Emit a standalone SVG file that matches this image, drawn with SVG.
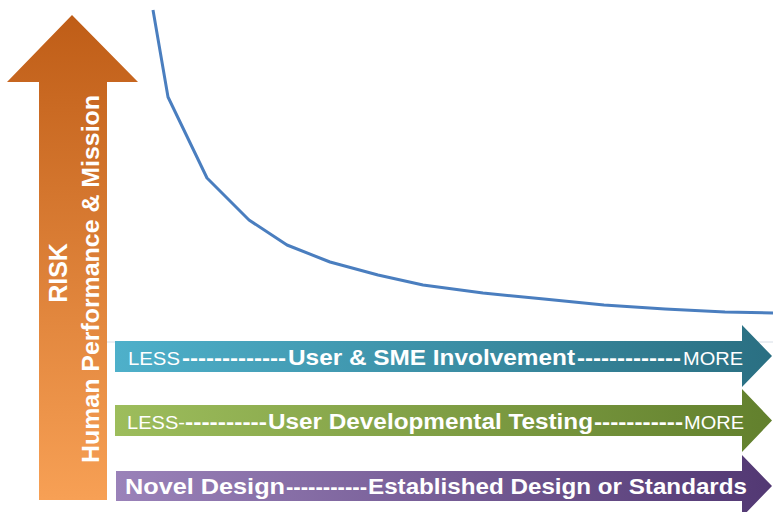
<svg xmlns="http://www.w3.org/2000/svg" width="773" height="512" viewBox="0 0 773 512">
  <defs>
    <linearGradient id="gOrange" x1="0" y1="0" x2="0" y2="1">
      <stop offset="0" stop-color="#bf5d17"/>
      <stop offset="1" stop-color="#f7a055"/>
    </linearGradient>
    <linearGradient id="gTeal" x1="0" y1="0" x2="1" y2="0">
      <stop offset="0" stop-color="#4eb0ca"/>
      <stop offset="1" stop-color="#2a6f82"/>
    </linearGradient>
    <linearGradient id="gGreen" x1="0" y1="0" x2="1" y2="0">
      <stop offset="0" stop-color="#9dbd5c"/>
      <stop offset="1" stop-color="#62802d"/>
    </linearGradient>
    <linearGradient id="gPurple" x1="0" y1="0" x2="1" y2="0">
      <stop offset="0" stop-color="#9a82b9"/>
      <stop offset="1" stop-color="#523873"/>
    </linearGradient>
  </defs>
  <style>
    text { font-family: "Liberation Sans", Arial, sans-serif; fill: #ffffff; }
    .b { font-weight: bold; }
    .r { font-weight: normal; }
    .curve { fill: none; stroke: #4a7ebf; stroke-width: 3; stroke-linejoin: round; }
    .axis { stroke: #d6dde6; stroke-width: 1; }
  </style>
  <rect width="773" height="512" fill="#ffffff"/>

  <g id="connectors">
    <line class="axis" x1="107" y1="342" x2="773" y2="342"/>
    <polyline class="curve" points="153,10 168,97 207,178 249,220 287,245 330,262 378,275 423,285 483,293 544,299 604,305 665,309 725,312 773,313"/>
  </g>

  <g id="risk">
    <polygon points="72,15 138,82 107,82 107,500 39,500 39,82 7,82" fill="url(#gOrange)"/>
    <text class="b" font-size="25" text-anchor="middle" transform="translate(66.5,273) rotate(-90)">RISK</text>
    <text class="b" font-size="23" text-anchor="middle" textLength="368" lengthAdjust="spacingAndGlyphs" transform="translate(98.5,279) rotate(-90)">Human Performance &amp; Mission</text>
  </g>

  <g id="involvement">
    <polygon points="115,341 742,341 742,325 772,356 742,387 742,372 115,372" fill="url(#gTeal)"/>
    <text y="365" font-size="19">
      <tspan class="r" x="128" textLength="52" lengthAdjust="spacingAndGlyphs">LESS</tspan>
      <tspan class="b" x="182" font-size="22" textLength="104" lengthAdjust="spacingAndGlyphs">-------------</tspan>
      <tspan class="b" x="288" font-size="22" textLength="287" lengthAdjust="spacingAndGlyphs">User &amp; SME Involvement</tspan>
      <tspan class="b" x="577" font-size="22" textLength="104" lengthAdjust="spacingAndGlyphs">-------------</tspan>
      <tspan class="r" x="683" textLength="60" lengthAdjust="spacingAndGlyphs">MORE</tspan>
    </text>
  </g>

  <g id="testing">
    <polygon points="115,405 742,405 742,389 772,420.5 742,452 742,436 115,436" fill="url(#gGreen)"/>
    <text y="429" font-size="19">
      <tspan class="r" x="127" textLength="58" lengthAdjust="spacingAndGlyphs">LESS-</tspan>
      <tspan class="b" x="185" font-size="22" textLength="82" lengthAdjust="spacingAndGlyphs">----------</tspan>
      <tspan class="b" x="268" font-size="22" textLength="325" lengthAdjust="spacingAndGlyphs">User Developmental Testing</tspan>
      <tspan class="b" x="594" font-size="22" textLength="89" lengthAdjust="spacingAndGlyphs">-----------</tspan>
      <tspan class="r" x="684" textLength="60" lengthAdjust="spacingAndGlyphs">MORE</tspan>
    </text>
  </g>

  <g id="design">
    <polygon points="116,471 742,471 742,455 772,486 742,517 742,501 116,501" fill="url(#gPurple)"/>
    <text y="494" font-size="22" class="b">
      <tspan x="125" textLength="160" lengthAdjust="spacingAndGlyphs">Novel Design</tspan>
      <tspan x="286" textLength="81" lengthAdjust="spacingAndGlyphs">-----------</tspan>
      <tspan x="368" textLength="379" lengthAdjust="spacingAndGlyphs">Established Design or Standards</tspan>
    </text>
  </g>
</svg>
